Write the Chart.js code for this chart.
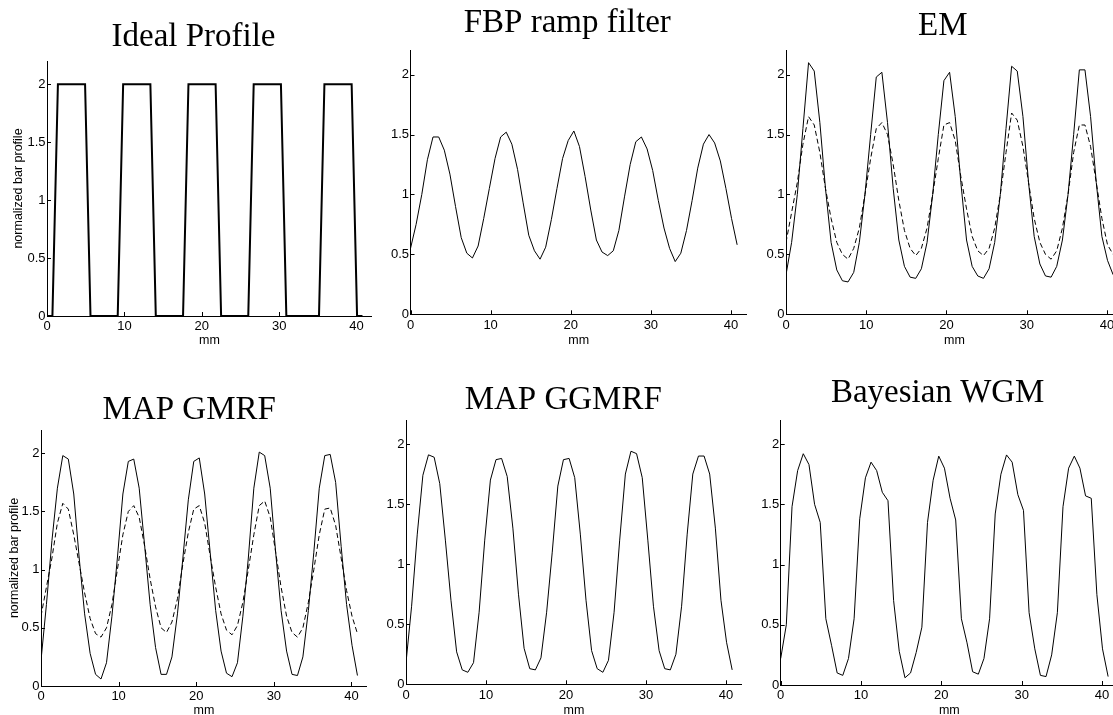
<!DOCTYPE html>
<html>
<head>
<meta charset="utf-8">
<title>Bar profiles</title>
<script src="https://cdn.jsdelivr.net/npm/chart.js@4.4.0/dist/chart.umd.min.js"></script>
<style>
  html, body { margin: 0; padding: 0; background: #fff; overflow: hidden; width: 1113px; height: 715px; }
  canvas { position: absolute; }
</style>
</head>
<body>
<canvas id="Ideal" width="367" height="347" style="left:5px;top:0px"></canvas>
<canvas id="Fbp" width="369" height="347" style="left:378px;top:0px"></canvas>
<canvas id="Em" width="371" height="347" style="left:752px;top:0px"></canvas>
<canvas id="Gmrf" width="366" height="347" style="left:1px;top:370px"></canvas>
<canvas id="Ggmrf" width="365" height="347" style="left:377px;top:370px"></canvas>
<canvas id="Wgm" width="371" height="347" style="left:747px;top:370px"></canvas>
<script>
// sample positions along the profile (mm)
const X_MM = [0, 0.70, 1.41, 2.11, 2.81, 3.52, 4.22, 4.92, 5.62, 6.33, 7.03, 7.73, 8.44, 9.14, 9.84,
  10.55, 11.25, 11.95, 12.65, 13.36, 14.06, 14.76, 15.47, 16.17, 16.87, 17.58, 18.28, 18.98, 19.68,
  20.39, 21.09, 21.79, 22.50, 23.20, 23.90, 24.61, 25.31, 26.01, 26.71, 27.42, 28.12, 28.82, 29.53,
  30.23, 30.93, 31.64, 32.34, 33.04, 33.74, 34.45, 35.15, 35.85, 36.56, 37.26, 37.96, 38.67, 39.37,
  40.07, 40.77];

const X_TICKS = [0, 10, 20, 30, 40];
const Y_TICKS = [0, 0.5, 1, 1.5, 2];

const IDEAL = [0, 0, 2, 2, 2, 2, 2, 2, 0, 0, 0, 0, 0, 0, 2, 2, 2, 2, 2, 2, 0, 0, 0, 0, 0, 0,
  2, 2, 2, 2, 2, 2, 0, 0, 0, 0, 0, 0, 2, 2, 2, 2, 2, 2, 0, 0, 0, 0, 0, 0, 0, 2, 2, 2, 2, 2, 2, 0, 0];

const FBP = [0.55, 0.75, 1.00, 1.29, 1.48, 1.48, 1.37, 1.17, 0.90, 0.64, 0.51, 0.47, 0.57, 0.80, 1.05,
  1.30, 1.48, 1.52, 1.42, 1.21, 0.93, 0.66, 0.53, 0.46, 0.56, 0.79, 1.05, 1.30, 1.45, 1.53, 1.40,
  1.15, 0.87, 0.62, 0.52, 0.49, 0.53, 0.70, 0.98, 1.25, 1.44, 1.48, 1.38, 1.20, 0.95, 0.72, 0.55,
  0.44, 0.51, 0.70, 0.95, 1.22, 1.42, 1.50, 1.43, 1.28, 1.05, 0.80, 0.58];

const EM_SOLID = [0.33, 0.60, 1.00, 1.55, 2.10, 2.03, 1.60, 1.05, 0.60, 0.37, 0.28, 0.27, 0.35, 0.60,
  1.00, 1.50, 1.98, 2.02, 1.60, 1.05, 0.62, 0.40, 0.31, 0.30, 0.38, 0.60, 1.00, 1.50, 1.95, 2.02,
  1.65, 1.10, 0.62, 0.40, 0.32, 0.30, 0.38, 0.60, 1.00, 1.55, 2.07, 2.03, 1.65, 1.10, 0.65, 0.42,
  0.32, 0.31, 0.40, 0.62, 1.00, 1.50, 2.04, 2.04, 1.65, 1.10, 0.65, 0.45, 0.33];

const EM_DASHED = [0.60, 0.85, 1.10, 1.42, 1.65, 1.58, 1.35, 1.05, 0.80, 0.60, 0.50, 0.46, 0.55, 0.72,
  1.00, 1.30, 1.55, 1.60, 1.50, 1.25, 0.95, 0.70, 0.55, 0.49, 0.55, 0.72, 1.00, 1.30, 1.58, 1.60,
  1.45, 1.15, 0.88, 0.65, 0.53, 0.49, 0.55, 0.72, 1.00, 1.35, 1.68, 1.62, 1.40, 1.10, 0.80, 0.60,
  0.50, 0.46, 0.53, 0.72, 1.00, 1.35, 1.58, 1.58, 1.40, 1.10, 0.80, 0.58, 0.50];

const GMRF_SOLID = [0.22, 0.70, 1.25, 1.70, 1.98, 1.95, 1.65, 1.10, 0.62, 0.28, 0.10, 0.06, 0.20, 0.60,
  1.10, 1.65, 1.93, 1.95, 1.70, 1.20, 0.70, 0.33, 0.10, 0.10, 0.25, 0.62, 1.10, 1.60, 1.93, 1.96,
  1.65, 1.15, 0.65, 0.30, 0.11, 0.08, 0.20, 0.60, 1.10, 1.70, 2.01, 1.98, 1.70, 1.15, 0.65, 0.30,
  0.10, 0.09, 0.25, 0.65, 1.15, 1.70, 1.98, 1.99, 1.75, 1.20, 0.70, 0.35, 0.09];

const GMRF_DASHED = [0.60, 0.85, 1.10, 1.40, 1.57, 1.52, 1.30, 1.05, 0.80, 0.58, 0.45, 0.42, 0.50, 0.70,
  1.00, 1.30, 1.50, 1.55, 1.45, 1.20, 0.92, 0.68, 0.50, 0.46, 0.55, 0.75, 1.05, 1.32, 1.52, 1.55,
  1.40, 1.12, 0.85, 0.62, 0.48, 0.44, 0.52, 0.72, 1.00, 1.30, 1.55, 1.59, 1.45, 1.15, 0.85, 0.60,
  0.46, 0.42, 0.50, 0.72, 1.00, 1.30, 1.52, 1.53, 1.38, 1.10, 0.82, 0.60, 0.45];

const GGMRF = [0.18, 0.65, 1.25, 1.74, 1.91, 1.89, 1.67, 1.20, 0.70, 0.27, 0.12, 0.10, 0.18, 0.60,
  1.20, 1.70, 1.87, 1.88, 1.73, 1.30, 0.75, 0.30, 0.13, 0.12, 0.22, 0.60, 1.10, 1.65, 1.87, 1.88,
  1.72, 1.25, 0.70, 0.28, 0.13, 0.10, 0.20, 0.60, 1.20, 1.75, 1.94, 1.92, 1.72, 1.20, 0.65, 0.28,
  0.13, 0.12, 0.25, 0.65, 1.25, 1.75, 1.90, 1.90, 1.75, 1.30, 0.70, 0.35, 0.12];

const WGM = [0.22, 0.50, 1.48, 1.78, 1.92, 1.83, 1.50, 1.35, 0.55, 0.33, 0.10, 0.08, 0.22, 0.55,
  1.38, 1.72, 1.85, 1.78, 1.60, 1.53, 0.70, 0.28, 0.06, 0.10, 0.27, 0.48, 1.35, 1.70, 1.90, 1.80,
  1.55, 1.37, 0.55, 0.35, 0.11, 0.09, 0.22, 0.55, 1.42, 1.75, 1.91, 1.85, 1.58, 1.45, 0.60, 0.30,
  0.08, 0.07, 0.25, 0.60, 1.48, 1.80, 1.90, 1.80, 1.57, 1.55, 0.75, 0.30, 0.07];

const Y_LABEL = "normalized bar profile";
const X_LABEL = "mm";

Chart.defaults.font.family = "'Liberation Sans', Arial, sans-serif";
Chart.defaults.font.size = 12.5;
Chart.defaults.color = "#000";

// MATLAB style tick marks pointing into the plot
const inwardTicks = {
  id: "inwardTicks",
  afterDatasetsDraw(chart) {
    const { ctx, chartArea, scales } = chart;
    ctx.save();
    ctx.strokeStyle = "#000";
    ctx.lineWidth = 1;
    ctx.beginPath();
    scales.x.ticks.forEach((t) => {
      const px = Math.round(scales.x.getPixelForValue(t.value)) + 0.5;
      ctx.moveTo(px, chartArea.bottom);
      ctx.lineTo(px, chartArea.bottom - 4);
    });
    scales.y.ticks.forEach((t) => {
      const py = Math.round(scales.y.getPixelForValue(t.value)) + 0.5;
      ctx.moveTo(chartArea.left, py);
      ctx.lineTo(chartArea.left + 4, py);
    });
    ctx.stroke();
    ctx.restore();
  },
};

// layout of each panel (padding / axis sizes in px)
const PANELS = [
  { id: "Ideal", title: "Ideal Profile", series: [{ values: IDEAL, width: 2, dash: [] }],
    padLeft: 10, yWidth: 32, xHeight: 31, titleTop: 20.5, titleBottom: 7.5, yTitle: true },
  { id: "Fbp", title: "FBP ramp filter", series: [{ values: FBP, width: 1, dash: [] }],
    padLeft: 9.5, yWidth: 23, xHeight: 32.7, titleTop: 7.2, titleBottom: 10.5, yTitle: false },
  { id: "Em", title: "EM", series: [{ values: EM_SOLID, width: 1, dash: [] }, { values: EM_DASHED, width: 1, dash: [5, 3] }],
    padLeft: 10.6, yWidth: 23.4, xHeight: 32.7, titleTop: 10.2, titleBottom: 7.5, yTitle: false },
  { id: "Gmrf", title: "MAP GMRF", series: [{ values: GMRF_SOLID, width: 1, dash: [] }, { values: GMRF_DASHED, width: 1, dash: [5, 3] }],
    padLeft: 10.4, yWidth: 29.6, xHeight: 31, titleTop: 24, titleBottom: 3, yTitle: true },
  { id: "Ggmrf", title: "MAP GGMRF", series: [{ values: GGMRF, width: 1, dash: [] }],
    padLeft: 7.5, yWidth: 21.5, xHeight: 32.7, titleTop: 13.5, titleBottom: 3.5, yTitle: false },
  { id: "Wgm", title: "Bayesian WGM", series: [{ values: WGM, width: 1, dash: [] }],
    padLeft: 10.4, yWidth: 23.3, xHeight: 32, titleTop: 6.5, titleBottom: 10.5, yTitle: false },
];

PANELS.forEach((p) => {
  new Chart(document.getElementById(p.id), {
    type: "line",
    data: {
      datasets: p.series.map((s) => ({
        data: X_MM.map((x, i) => ({ x: x, y: s.values[i] })),
        borderColor: "#000",
        borderWidth: s.width,
        borderDash: s.dash,
        pointRadius: 0,
        tension: 0,
        fill: false,
      })),
    },
    options: {
      responsive: false,
      animation: false,
      events: [],
      layout: { padding: { left: p.padLeft, right: 0, top: 0, bottom: 0 } },
      plugins: {
        legend: { display: false },
        tooltip: { enabled: false },
        title: {
          display: true,
          text: p.title,
          color: "#000",
          font: { family: "'Liberation Serif', 'Times New Roman', serif", size: 33, weight: "normal", lineHeight: 1 },
          padding: { top: p.titleTop, bottom: p.titleBottom },
        },
      },
      scales: {
        x: {
          type: "linear",
          min: 0,
          max: 42,
          afterBuildTicks: (s) => { s.ticks = X_TICKS.map((v) => ({ value: v })); },
          afterFit: (s) => { s.height = p.xHeight; },
          grid: { drawOnChartArea: false, drawTicks: false },
          border: { display: true, color: "#000", width: 1 },
          ticks: { padding: 3, maxRotation: 0, color: "#000", font: { size: 13 }, callback: (v) => String(v) },
          title: { display: true, text: X_LABEL, color: "#000", padding: { top: 0, bottom: -1 } },
        },
        y: {
          min: 0,
          max: 2.2,
          afterBuildTicks: (s) => { s.ticks = Y_TICKS.map((v) => ({ value: v })); },
          afterFit: (s) => { s.width = p.yWidth; },
          grid: { drawOnChartArea: false, drawTicks: false },
          border: { display: true, color: "#000", width: 1 },
          ticks: { padding: 1.5, color: "#000", font: { size: 13 }, callback: (v) => String(v) },
          title: {
            display: p.yTitle,
            text: Y_LABEL,
            color: "#000",
            font: { lineHeight: 0.56 },
            padding: { top: 0, bottom: 0 },
          },
        },
      },
    },
    plugins: [inwardTicks],
  });
});
</script>
</body>
</html>
